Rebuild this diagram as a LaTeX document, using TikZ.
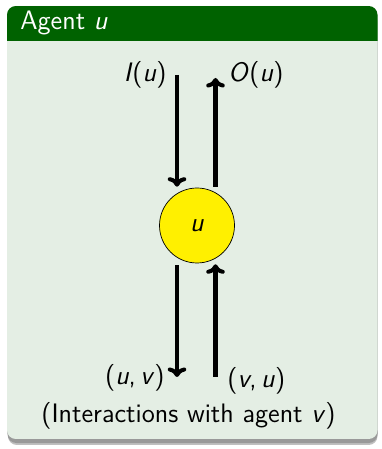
\documentclass[tikz,border=0pt]{standalone}
\usepackage{tikz}
\usetikzlibrary{positioning, arrows.meta}
\definecolor{blockHead}{RGB}{0,98,0}
\definecolor{blockBody}{RGB}{228,238,228}
\definecolor{agentFill}{RGB}{255,240,0}
\newcommand{\vr}[1]{\textit{#1}}

\begin{document}
\begin{tikzpicture}[
  txt/.style={font=\sffamily\fontsize{15.2}{18}\selectfont, inner sep=0pt},
  head/.style={font=\sffamily\fontsize{15.2}{18}\selectfont, inner sep=0pt, text=white},
  flow/.style={line width=2.3pt, -{To[length=1.9mm, width=3.7mm]}},
  agent/.style={circle, draw=black, thin, fill=agentFill, minimum size=1.50cm, inner sep=0pt},
]
  \useasboundingbox (0,0) rectangle (7.62,8.98);
  \fill[black!25, rounded corners=5pt] (0.16,0.08) rectangle (7.55,8.70);
  \fill[black!40, rounded corners=5pt] (0.15,0.12) rectangle (7.55,8.74);
  \fill[blockBody, rounded corners=5pt] (0.14,0.20) rectangle (7.55,8.86);
  \begin{scope}
    \clip[rounded corners=5pt] (0.14,0.20) rectangle (7.55,8.86);
    \fill[blockHead] (0.14,8.16) rectangle (7.55,8.86);
  \end{scope}
  \node[head, anchor=base west] (title) at (0.40,8.38) {Agent \vr{u}};

  \node[agent, txt] (u) at (3.94,4.47) {\vr{u}};

  \coordinate (inTop) at (3.54,7.48);
  \coordinate (outTop) at (4.31,7.42);
  \coordinate (uvEnd) at (3.54,1.44);
  \coordinate (vuStart) at (4.31,1.44);

  \draw[flow] (inTop) -- ([yshift=0.02cm]inTop |- u.north);
  \draw[flow] ([yshift=0.02cm]outTop |- u.north) -- (outTop);
  \draw[flow] ([yshift=-0.04cm]uvEnd |- u.south) -- (uvEnd);
  \draw[flow] (vuStart) -- ([yshift=-0.02cm]vuStart |- u.south);

  \node[txt, anchor=east] (inLab) at (3.34,7.48) {\vr{I}(\vr{u})};
  \node[txt, anchor=west] (outLab) at (4.56,7.48) {\vr{O}(\vr{u})};
  \node[txt, anchor=east] (uvLab) at (3.30,1.42) {(\vr{u},\,\vr{v})};
  \node[txt, anchor=west] (vuLab) at (4.54,1.36) {(\vr{v},\,\vr{u})};
  \node[txt] (note) at (3.77,0.66) {(Interactions with agent \vr{v})};
\end{tikzpicture}
\end{document}
